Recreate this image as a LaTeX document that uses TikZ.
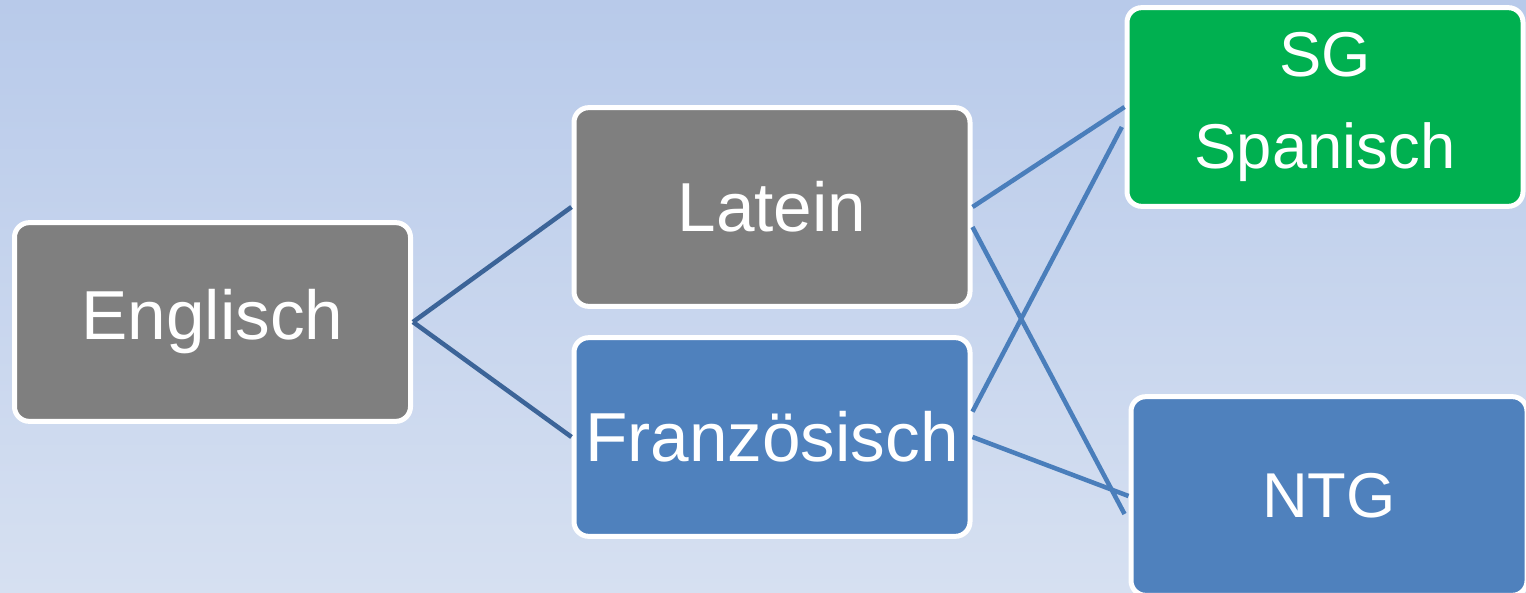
\documentclass[tikz,border=0pt]{standalone}
\usepackage{fontspec}
\setmainfont{Liberation Sans}
\begin{document}
\begin{tikzpicture}[x=0.75pt,y=-0.75pt,
  box/.style={draw=white,line width=3.75pt,rounded corners=11pt,text=white,
    minimum width=297pt,minimum height=149pt,inner sep=0pt,align=center,
    font=\fontsize{52}{69}\selectfont},
  smalltext/.style={font=\fontsize{47.5}{69}\selectfont},
  graybox/.style={box,fill=gray8},
  bluebox/.style={box,fill=blueA},
  greenbox/.style={box,fill=greenA},
  link/.style={line width=3.4pt,draw=lineA},
  darklink/.style={line width=3.4pt,draw=lineB}]
\definecolor{gray8}{HTML}{7F7F7F}
\definecolor{blueA}{HTML}{4F81BD}
\definecolor{greenA}{HTML}{00B050}
\definecolor{lineA}{HTML}{4A7EBB}
\definecolor{lineB}{HTML}{3C6498}
\definecolor{bgtop}{HTML}{B8CAEA}
\definecolor{bgbot}{HTML}{D6E0F1}
\useasboundingbox (0,0) rectangle (1526,592);
\clip (0,0) rectangle (1526,592);
\shade[top color=bgtop,bottom color=bgbot] (0,0) rectangle (1526,592);
% nodes
\node[graybox] (E) at (212.5,322) {Englisch};
\node[graybox] (L) at (772,207) {Latein};
\node[bluebox] (F) at (772,437) {Französisch};
\node[greenbox,smalltext] (S) at (1325,107) {SG\\Spanisch};
\node[bluebox,smalltext] (N) at (1329,496) {NTG};
% connectors
\draw[darklink] (E.east) -- (L.west);
\draw[darklink] (E.east) -- (F.west);
\draw[link] (L.east) -- (S.west);
\draw[link] ([yshift=-15pt]L.east) -- ([yshift=-13.5pt,xshift=-3pt]N.west);
\draw[link] ([yshift=19pt]F.east) -- ([yshift=-15pt,xshift=-2pt]S.west);
\draw[link] (F.east) -- (N.west);
\end{tikzpicture}
\end{document}
